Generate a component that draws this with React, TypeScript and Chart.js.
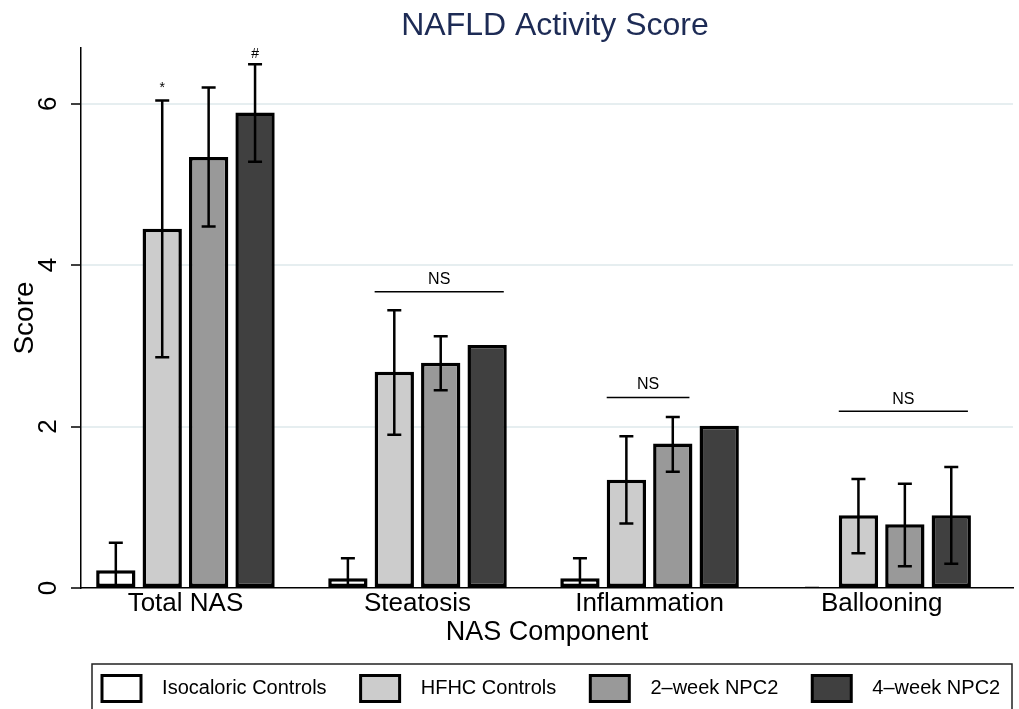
import React, { useEffect, useRef } from 'react';
import { Chart, registerables } from 'chart.js';

Chart.register(...registerables);

// ---------- data ----------
const categories = ['Total NAS', 'Steatosis', 'Inflammation', 'Ballooning'];
const seriesNames = ['Isocaloric Controls', 'HFHC Controls', '2\u2013week NPC2', '4\u2013week NPC2'];

const isoMean = [0.22, 0.12, 0.12, 0];
const isoLow = [-0.11, -0.13, -0.13, 0];
const isoHigh = [0.56, 0.37, 0.37, 0];

const hfhcMean = [4.45, 2.68, 1.34, 0.9];
const hfhcLow = [2.86, 1.9, 0.8, 0.43];
const hfhcHigh = [6.04, 3.44, 1.88, 1.35];

const wk2Mean = [5.34, 2.79, 1.79, 0.79];
const wk2Low = [4.48, 2.45, 1.44, 0.27];
const wk2High = [6.2, 3.12, 2.12, 1.29];

const wk4Mean = [5.89, 3.01, 2.01, 0.9];
const wk4Low = [5.28, 3.01, 2.01, 0.3];
const wk4High = [6.49, 3.01, 2.01, 1.5];

const yTicks = [0, 2, 4, 6];

// significance markers (text, category, series, y value of baseline)
const markText = ['*', '#'];
const markCategory = [0, 0];
const markSeries = [1, 3];
const markY = [6.14, 6.56];

// NS brackets (category, first series, last series, line y, label y)
const nsCategory = [1, 2, 3];
const nsFrom = [1, 1, 1];
const nsTo = [3, 2, 3];
const nsLineY = [3.67, 2.36, 2.19];
const nsLabelY = [3.82, 2.515, 2.33];

const seriesMeans = [isoMean, hfhcMean, wk2Mean, wk4Mean];
const seriesLows = [isoLow, hfhcLow, wk2Low, wk4Low];
const seriesHighs = [isoHigh, hfhcHigh, wk2High, wk4High];
const seriesColors = ['#ffffff', '#cccccc', '#999999', '#404040'];

const FONT = "'Liberation Sans', Arial, Helvetica, sans-serif";

const errorBarPlugin = {
  id: 'errorBars',
  afterDatasetsDraw(chart: any) {
    const { ctx, chartArea, scales } = chart;
    const y = scales.y;
    ctx.save();
    ctx.beginPath();
    ctx.rect(chartArea.left, chartArea.top - 60, chartArea.right - chartArea.left, chartArea.bottom - chartArea.top + 60);
    ctx.clip();
    ctx.strokeStyle = '#000';
    ctx.lineWidth = 2.5;
    ctx.lineCap = 'butt';
    const half = 7;
    chart.data.datasets.forEach((_: any, i: number) => {
      const meta = chart.getDatasetMeta(i);
      meta.data.forEach((bar: any, j: number) => {
        const lo = seriesLows[i][j];
        const hi = seriesHighs[i][j];
        // a zero-width interval on a visible bar is hidden by the bar outline
        if (lo === hi && seriesMeans[i][j] !== 0) return;
        const x = bar.x;
        const yl = y.getPixelForValue(lo);
        const yh = y.getPixelForValue(hi);
        ctx.beginPath();
        ctx.moveTo(x, yl);
        ctx.lineTo(x, yh);
        ctx.moveTo(x - half, yh);
        ctx.lineTo(x + half, yh);
        ctx.moveTo(x - half, yl);
        ctx.lineTo(x + half, yl);
        ctx.stroke();
      });
    });
    ctx.restore();
  },
};

const annotationPlugin = {
  id: 'annotations',
  afterDatasetsDraw(chart: any) {
    const { ctx, scales } = chart;
    const y = scales.y;
    ctx.save();
    ctx.fillStyle = '#000';
    ctx.strokeStyle = '#000';
    ctx.textAlign = 'center';
    ctx.textBaseline = 'alphabetic';
    ctx.font = `14px ${FONT}`;
    markText.forEach((t, k) => {
      const bar = chart.getDatasetMeta(markSeries[k]).data[markCategory[k]];
      ctx.fillText(t, bar.x, y.getPixelForValue(markY[k]));
    });
    ctx.lineWidth = 1.5;
    ctx.font = `16px ${FONT}`;
    ctx.textBaseline = 'middle';
    nsCategory.forEach((c, k) => {
      const b1 = chart.getDatasetMeta(nsFrom[k]).data[c];
      const b2 = chart.getDatasetMeta(nsTo[k]).data[c];
      const x1 = b1.x - b1.width / 2;
      const x2 = b2.x + b2.width / 2 - 3;
      const ly = y.getPixelForValue(nsLineY[k]);
      ctx.beginPath();
      ctx.moveTo(x1, ly);
      ctx.lineTo(x2, ly);
      ctx.stroke();
      ctx.fillText('NS', (x1 + x2) / 2, y.getPixelForValue(nsLabelY[k]));
    });
    ctx.restore();
  },
};

const yLabelPlugin = {
  id: 'yLabels',
  afterDraw(chart: any) {
    const { ctx, scales } = chart;
    const y = scales.y;
    ctx.save();
    ctx.fillStyle = '#000';
    ctx.font = `26px ${FONT}`;
    ctx.textAlign = 'center';
    ctx.textBaseline = 'middle';
    y.ticks.forEach((t: any) => {
      const py = y.getPixelForValue(t.value);
      ctx.save();
      ctx.translate(49, py);
      ctx.rotate(-Math.PI / 2);
      ctx.fillText(String(t.value), 0, 0);
      ctx.restore();
    });
    ctx.restore();
  },
};

const placementPlugin = {
  id: 'placement',
  afterLayout(chart: any) {
    if (chart.legend) {
      chart.legend.left = 68;
      chart.legend.right = 1300;
    }
    if (chart.titleBlock) {
      chart.titleBlock.left = 91;
      chart.titleBlock.right = 1019;
    }
  },
  afterDraw(chart: any) {
    const { ctx } = chart;
    ctx.save();
    ctx.strokeStyle = '#222';
    ctx.lineWidth = 1.5;
    ctx.strokeRect(92, 664, 920, 70);
    ctx.restore();
  },
};

export default function App() {
  const ref = useRef<HTMLCanvasElement>(null);

  useEffect(() => {
    if (!ref.current) return;
    const chart = new Chart(ref.current, {
      type: 'bar',
      data: {
        datasets: seriesNames.map((name, i) => ({
          label: name,
          data: categories.map((_, j) => ({ x: j, y: seriesMeans[i][j] })),
          backgroundColor: seriesColors[i],
          borderColor: '#000',
          borderWidth: 3.5,
          borderSkipped: false,
          categoryPercentage: 0.8,
          barPercentage: 0.847,
        })),
      },
      options: {
        animation: false,
        responsive: false,
        maintainAspectRatio: false,
        layout: { padding: { left: 0, right: 6, top: 0, bottom: -2.5 } },
        plugins: {
          tooltip: { enabled: false },
          title: {
            display: true,
            text: 'NAFLD Activity Score',
            color: '#1d2b55',
            font: { family: FONT, size: 32, weight: 'normal' },
            padding: { top: 7, bottom: 2.6 },
          },
          legend: {
            position: 'bottom',
            align: 'start',
            labels: {
              boxWidth: 39,
              boxHeight: 26,
              padding: 34,
              color: '#000',
              font: { family: FONT, size: 20 },
              generateLabels: (ch: any) =>
                ch.data.datasets.map((ds: any, i: number) => ({
                  text: '  ' + ds.label,
                  fillStyle: ds.backgroundColor,
                  strokeStyle: '#000',
                  lineWidth: 3,
                  hidden: false,
                  datasetIndex: i,
                })),
            },
          },
        },
        scales: {
          x: {
            type: 'linear',
            min: -0.45,
            max: 3.566,
            offset: false,
            afterBuildTicks: (s: any) => {
              s.ticks = categories.map((_, i) => ({ value: i }));
            },
            afterFit: (s: any) => {
              s.height = 53.5;
            },
            ticks: {
              callback: (v: any) => categories[Math.round(Number(v))] ?? '',
              color: '#000',
              font: { family: FONT, size: 26 },
              padding: 0,
              maxRotation: 0,
              autoSkip: false,
            },
            grid: { display: false, drawTicks: false, offset: false },
            border: { display: true, color: '#000', width: 1.5 },
            title: {
              display: true,
              text: 'NAS Component',
              color: '#000',
              font: { family: FONT, size: 27, lineHeight: 0.63 },
              padding: 0,
            },
          },
          y: {
            type: 'linear',
            min: 0,
            max: 6.69,
            afterBuildTicks: (s: any) => {
              s.ticks = yTicks.map((v) => ({ value: v }));
            },
            afterFit: (s: any) => {
              s.width = 81;
            },
            ticks: { display: false },
            grid: {
              color: (c: any) => (c.tick && c.tick.value === 0 ? 'rgba(0,0,0,0)' : '#e6eef0'),
              lineWidth: 2,
              drawTicks: true,
              tickLength: 10,
              tickColor: '#000',
              tickWidth: 1.5,
            },
            border: { display: true, color: '#000', width: 1.5 },
            title: {
              display: true,
              text: 'Score',
              color: '#000',
              font: { family: FONT, size: 28 },
              padding: { top: 8.5, bottom: 0 },
            },
          },
        },
      } as any,
      plugins: [errorBarPlugin, annotationPlugin, yLabelPlugin, placementPlugin],
    });
    return () => chart.destroy();
  }, []);

  return (
    <div style={{ position: 'absolute', left: 0, top: 0, width: 1019, height: 709, background: '#fff' }}>
      <canvas ref={ref} width={1019} height={709} style={{ display: 'block', width: 1019, height: 709 }} />
    </div>
  );
}
